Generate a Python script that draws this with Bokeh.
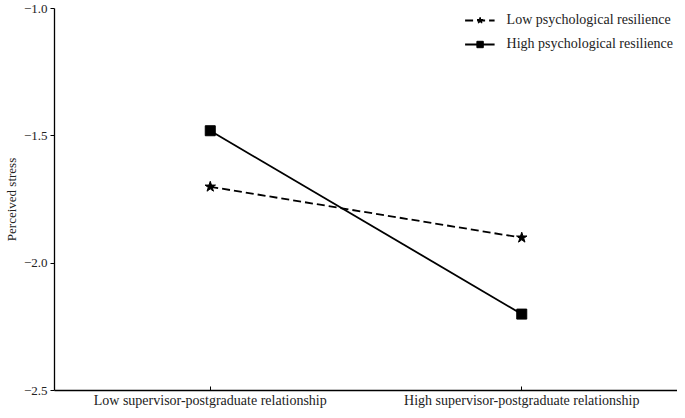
from bokeh.plotting import figure
from bokeh.models import FixedTicker, Legend, LegendItem, Range1d
from bokeh.embed import file_html
from bokeh.resources import INLINE

categories = ["Low supervisor-postgraduate relationship", "High supervisor-postgraduate relationship"]
low_resilience = [-1.7, -1.9]
high_resilience = [-1.48, -2.2]
y_ticks = [-2.5, -2.0, -1.5, -1.0]
y_tick_labels = ["\u22122.5", "\u22122.0", "\u22121.5", "\u22121.0"]
series_names = ["Low psychological resilience", "High psychological resilience"]

xs = [1, 2]
FONT = "Liberation Serif"

p = figure(width=677, height=410, output_backend="svg", toolbar_location=None,
           x_range=Range1d(0.5, 2.5), y_range=Range1d(-2.5, -1.0),
           min_border_left=10, min_border_right=0, min_border_top=8, min_border_bottom=10)
p.outline_line_color = None
p.xgrid.visible = False
p.ygrid.visible = False
p.background_fill_color = "white"

l1 = p.line(xs, low_resilience, line_color="black", line_width=1.8, line_dash="8 4")
s1 = p.scatter(xs, low_resilience, marker="star", size=11, fill_color="black", line_color="black")
l2 = p.line(xs, high_resilience, line_color="black", line_width=1.8)
s2 = p.scatter(xs, high_resilience, marker="square", size=10, fill_color="black", line_color="black")

p.xaxis.ticker = FixedTicker(ticks=xs)
p.xaxis.major_label_overrides = {1: categories[0], 2: categories[1]}
p.xaxis.major_tick_in = 4
p.xaxis.major_tick_out = 0
p.xaxis.minor_tick_line_color = None
p.yaxis.ticker = FixedTicker(ticks=y_ticks)
p.yaxis.major_label_overrides = {t: l for t, l in zip(y_ticks, y_tick_labels)}
p.yaxis.major_tick_out = 4
p.yaxis.major_tick_in = 0
p.yaxis.minor_tick_line_color = None
p.yaxis.axis_label = "Perceived stress"

for ax in (p.xaxis[0], p.yaxis[0]):
    ax.axis_line_color = "black"
    ax.axis_line_width = 1.3
    ax.major_tick_line_color = "black"
    ax.major_label_text_font = FONT
    ax.major_label_text_color = "#222222"
    ax.axis_label_text_font = FONT
    ax.axis_label_text_font_style = "normal"
    ax.axis_label_text_color = "#222222"
p.xaxis.major_label_text_font_size = "14px"
p.yaxis.major_label_text_font_size = "13px"
p.yaxis.axis_label_text_font_size = "13px"
p.xaxis.major_label_standoff = 2
p.yaxis.major_label_standoff = 3
p.yaxis.axis_label_standoff = 2

legend = Legend(items=[LegendItem(label=series_names[0], renderers=[l1, s1]),
                       LegendItem(label=series_names[1], renderers=[l2, s2])],
                location="top_right", border_line_color=None, background_fill_alpha=0,
                label_text_font=FONT, label_text_font_size="14px", label_text_color="#222222",
                glyph_width=30, glyph_height=16, spacing=8, padding=2, margin=4,
                label_standoff=12)
p.add_layout(legend)

open("out.html", "w").write(file_html(p, INLINE))
